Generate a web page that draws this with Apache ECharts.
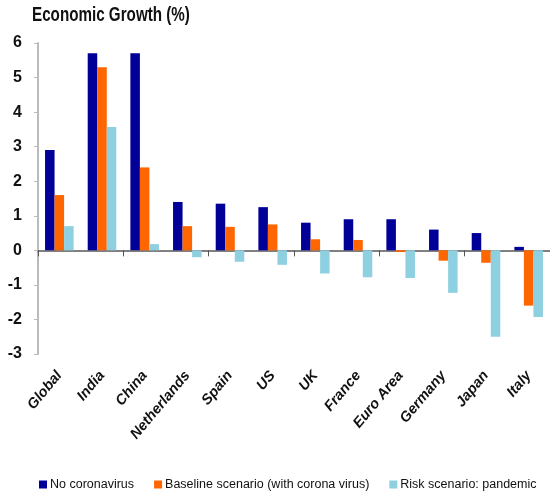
<!DOCTYPE html>
<html><head><meta charset="utf-8">
<script src="https://cdn.jsdelivr.net/npm/echarts@6/dist/echarts.min.js"></script>
<style>html,body{margin:0;padding:0;background:#fff}#c{width:550px;height:492px}</style>
</head><body><div id="c"></div>
<script>
const categories = ['Global','India','China','Netherlands','Spain','US','UK','France','Euro Area','Germany','Japan','Italy'];
const noCorona = [2.9, 5.7, 5.7, 1.4, 1.35, 1.25, 0.8, 0.9, 0.9, 0.6, 0.5, 0.1];
const baseline = [1.6, 5.3, 2.4, 0.7, 0.68, 0.75, 0.32, 0.3, -0.05, -0.3, -0.36, -1.6];
const risk = [0.7, 3.57, 0.18, -0.2, -0.33, -0.42, -0.67, -0.78, -0.8, -1.23, -2.5, -1.93];
const seriesNames = ['No coronavirus','Baseline scenario (with corona virus)','Risk scenario: pandemic'];
const yTicks = [-3,-2,-1,0,1,2,3,4,5,6];
const titleText = 'Economic Growth (%)';

const sans = '"Liberation Sans",Arial,sans-serif';
const chart = echarts.init(document.getElementById('c'));
chart.setOption({
  animation:false,
  graphic:[{type:'text', x:32, y:5, scaleX:0.76,
    style:{text:titleText, font:'bold 20px "Liberation Sans", Arial, sans-serif', fill:'#111', textVerticalAlign:'top'}}],
  legend:{top:473, left:34, width:540, itemWidth:8, itemHeight:8, itemGap:20, icon:'rect',
    textStyle:{fontFamily:sans, fontSize:12.5, color:'#111', padding:[0,0,0,-2]}},
  grid:{left:38, right:0, top:43, bottom:138, containLabel:false},
  xAxis:[{type:'category', data:categories, axisLine:{onZero:true, lineStyle:{color:'#808080', width:2}},
      axisTick:{show:true, length:6, lineStyle:{color:'#555'}}, axisLabel:{show:false}, splitLine:{show:false}},
    {type:'category', data:categories, position:'bottom', axisLine:{show:false, onZero:false}, axisTick:{show:false},
      axisLabel:{rotate:50, margin:19, interval:0, fontFamily:sans, fontSize:14.5, fontWeight:'bold', fontStyle:'italic', color:'#111'}}],
  yAxis:{type:'value', min:-3, max:6, interval:1,
    axisLine:{show:true, lineStyle:{color:'#bbb', width:2}}, axisTick:{show:true, length:4, lineStyle:{color:'#bbb'}},
    splitLine:{show:false},
    axisLabel:{margin:16, fontFamily:sans, fontSize:16, fontWeight:'bold', color:'#111',
      formatter:v=>yTicks.includes(v)?String(v):''}},
  series:[
    {name:seriesNames[0], type:'bar', data:noCorona, itemStyle:{color:'#000099'}, barGap:'0%', barCategoryGap:'33%'},
    {name:seriesNames[1], type:'bar', data:baseline, itemStyle:{color:'#ff6600'}},
    {name:seriesNames[2], type:'bar', data:risk, itemStyle:{color:'#8fd0e0'}}
  ]
});
</script></body></html>
